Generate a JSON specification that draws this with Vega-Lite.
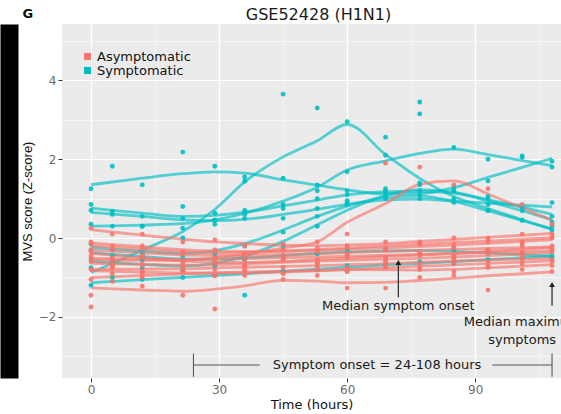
{
  "$schema": "https://vega.github.io/schema/vega-lite/v6.json",
  "autosize": {"type": "none"},
  "width": 499,
  "height": 354,
  "padding": {"left": 62, "top": 24, "right": 0, "bottom": 36},
  "background": "white",
  "title": {
    "text": "GSE52428 (H1N1)",
    "frame": "group",
    "font": "DejaVu Sans",
    "fontSize": 16,
    "fontWeight": "normal",
    "color": "#1a1a1a",
    "offset": 2,
    "dx": 7,
    "dy": 17
  },
  "config": {
    "view": {"fill": "#EBEBEB", "stroke": null},
    "axis": {
      "gridColor": "white",
      "gridWidth": 1.2,
      "domain": false,
      "tickColor": "#333333",
      "tickSize": 4,
      "labelFont": "DejaVu Sans",
      "labelFontSize": 12,
      "labelColor": "#6b6b6b",
      "labelPadding": 2,
      "titleFont": "DejaVu Sans",
      "titleFontSize": 13,
      "titleFontWeight": "normal",
      "titleColor": "#111111"
    },
    "legend": {
      "orient": "none",
      "legendX": 19,
      "legendY": 26,
      "padding": 0,
      "rowPadding": 0,
      "labelFont": "DejaVu Sans",
      "labelFontSize": 13,
      "labelColor": "#111111",
      "labelOffset": 3,
      "symbolType": "square",
      "symbolSize": 50,
      "symbolStrokeWidth": 0,
      "symbolOpacity": 1
    }
  },
  "datasets": {
    "pts": [
      {"s":"S1","g":"Symptomatic","t":0,"v":1.25},{"s":"S1","g":"Symptomatic","t":5,"v":1.82},{"s":"S1","g":"Symptomatic","t":12,"v":1.35},{"s":"S1","g":"Symptomatic","t":21.5,"v":2.18},{"s":"S1","g":"Symptomatic","t":29,"v":1.82},{"s":"S1","g":"Symptomatic","t":36,"v":1.55},{"s":"S1","g":"Symptomatic","t":45,"v":1.52},{"s":"S1","g":"Symptomatic","t":53,"v":1.35},{"s":"S1","g":"Symptomatic","t":60,"v":1.2},{"s":"S1","g":"Symptomatic","t":69,"v":1.05},{"s":"S1","g":"Symptomatic","t":77,"v":1.0},{"s":"S1","g":"Symptomatic","t":85,"v":1.2},{"s":"S1","g":"Symptomatic","t":93,"v":1.45},{"s":"S1","g":"Symptomatic","t":101,"v":2.05},{"s":"S1","g":"Symptomatic","t":108,"v":1.95},
      {"s":"S2","g":"Symptomatic","t":0,"v":-0.75},{"s":"S2","g":"Symptomatic","t":5,"v":-0.6},{"s":"S2","g":"Symptomatic","t":12,"v":-0.55},{"s":"S2","g":"Symptomatic","t":21.5,"v":0.0},{"s":"S2","g":"Symptomatic","t":29,"v":0.63},{"s":"S2","g":"Symptomatic","t":36,"v":1.44},{"s":"S2","g":"Symptomatic","t":45,"v":3.65},{"s":"S2","g":"Symptomatic","t":53,"v":3.3},{"s":"S2","g":"Symptomatic","t":60,"v":2.95},{"s":"S2","g":"Symptomatic","t":69,"v":2.1},{"s":"S2","g":"Symptomatic","t":77,"v":1.35},{"s":"S2","g":"Symptomatic","t":85,"v":0.9},{"s":"S2","g":"Symptomatic","t":93,"v":0.7},{"s":"S2","g":"Symptomatic","t":101,"v":0.45},{"s":"S2","g":"Symptomatic","t":108,"v":0.3},
      {"s":"S3","g":"Symptomatic","t":0,"v":0.35},{"s":"S3","g":"Symptomatic","t":5,"v":0.3},{"s":"S3","g":"Symptomatic","t":12,"v":0.3},{"s":"S3","g":"Symptomatic","t":21.5,"v":0.25},{"s":"S3","g":"Symptomatic","t":29,"v":0.45},{"s":"S3","g":"Symptomatic","t":36,"v":0.6},{"s":"S3","g":"Symptomatic","t":45,"v":0.85},{"s":"S3","g":"Symptomatic","t":53,"v":1.2},{"s":"S3","g":"Symptomatic","t":60,"v":1.68},{"s":"S3","g":"Symptomatic","t":69,"v":2.56},{"s":"S3","g":"Symptomatic","t":77,"v":3.45},{"s":"S3","g":"Symptomatic","t":85,"v":2.3},{"s":"S3","g":"Symptomatic","t":93,"v":2.0},{"s":"S3","g":"Symptomatic","t":101,"v":2.08},{"s":"S3","g":"Symptomatic","t":108,"v":1.8},
      {"s":"S4","g":"Symptomatic","t":0,"v":0.85},{"s":"S4","g":"Symptomatic","t":5,"v":0.68},{"s":"S4","g":"Symptomatic","t":12,"v":0.55},{"s":"S4","g":"Symptomatic","t":21.5,"v":0.5},{"s":"S4","g":"Symptomatic","t":29,"v":0.45},{"s":"S4","g":"Symptomatic","t":36,"v":0.7},{"s":"S4","g":"Symptomatic","t":45,"v":0.75},{"s":"S4","g":"Symptomatic","t":53,"v":1.0},{"s":"S4","g":"Symptomatic","t":60,"v":1.1},{"s":"S4","g":"Symptomatic","t":69,"v":1.25},{"s":"S4","g":"Symptomatic","t":77,"v":3.15},{"s":"S4","g":"Symptomatic","t":85,"v":1.2},{"s":"S4","g":"Symptomatic","t":93,"v":1.05},{"s":"S4","g":"Symptomatic","t":101,"v":0.8},{"s":"S4","g":"Symptomatic","t":108,"v":0.55},
      {"s":"S5","g":"Symptomatic","t":0,"v":0.7},{"s":"S5","g":"Symptomatic","t":5,"v":0.6},{"s":"S5","g":"Symptomatic","t":12,"v":0.3},{"s":"S5","g":"Symptomatic","t":21.5,"v":0.8},{"s":"S5","g":"Symptomatic","t":29,"v":0.35},{"s":"S5","g":"Symptomatic","t":36,"v":0.5},{"s":"S5","g":"Symptomatic","t":45,"v":0.5},{"s":"S5","g":"Symptomatic","t":53,"v":0.75},{"s":"S5","g":"Symptomatic","t":60,"v":0.9},{"s":"S5","g":"Symptomatic","t":69,"v":1.0},{"s":"S5","g":"Symptomatic","t":77,"v":1.1},{"s":"S5","g":"Symptomatic","t":85,"v":0.95},{"s":"S5","g":"Symptomatic","t":93,"v":0.85},{"s":"S5","g":"Symptomatic","t":101,"v":0.7},{"s":"S5","g":"Symptomatic","t":108,"v":0.9},
      {"s":"S6","g":"Symptomatic","t":0,"v":-0.15},{"s":"S6","g":"Symptomatic","t":5,"v":-0.3},{"s":"S6","g":"Symptomatic","t":12,"v":-0.4},{"s":"S6","g":"Symptomatic","t":21.5,"v":-0.5},{"s":"S6","g":"Symptomatic","t":29,"v":-0.4},{"s":"S6","g":"Symptomatic","t":36,"v":-0.2},{"s":"S6","g":"Symptomatic","t":45,"v":0.15},{"s":"S6","g":"Symptomatic","t":53,"v":0.55},{"s":"S6","g":"Symptomatic","t":60,"v":0.95},{"s":"S6","g":"Symptomatic","t":69,"v":1.15},{"s":"S6","g":"Symptomatic","t":77,"v":1.2},{"s":"S6","g":"Symptomatic","t":85,"v":1.0},{"s":"S6","g":"Symptomatic","t":93,"v":0.7},{"s":"S6","g":"Symptomatic","t":101,"v":0.45},{"s":"S6","g":"Symptomatic","t":108,"v":0.2},
      {"s":"S7","g":"Symptomatic","t":0,"v":-0.55},{"s":"S7","g":"Symptomatic","t":5,"v":-0.6},{"s":"S7","g":"Symptomatic","t":12,"v":-0.75},{"s":"S7","g":"Symptomatic","t":21.5,"v":-0.8},{"s":"S7","g":"Symptomatic","t":29,"v":-0.7},{"s":"S7","g":"Symptomatic","t":36,"v":-0.55},{"s":"S7","g":"Symptomatic","t":45,"v":-0.2},{"s":"S7","g":"Symptomatic","t":53,"v":0.3},{"s":"S7","g":"Symptomatic","t":60,"v":0.85},{"s":"S7","g":"Symptomatic","t":69,"v":1.2},{"s":"S7","g":"Symptomatic","t":77,"v":1.4},{"s":"S7","g":"Symptomatic","t":85,"v":1.3},{"s":"S7","g":"Symptomatic","t":93,"v":1.0},{"s":"S7","g":"Symptomatic","t":101,"v":0.7},{"s":"S7","g":"Symptomatic","t":108,"v":0.4},
      {"s":"S8","g":"Symptomatic","t":0,"v":-1.2},{"s":"S8","g":"Symptomatic","t":5,"v":-1.0},{"s":"S8","g":"Symptomatic","t":12,"v":-1.05},{"s":"S8","g":"Symptomatic","t":21.5,"v":-1.0},{"s":"S8","g":"Symptomatic","t":29,"v":-0.95},{"s":"S8","g":"Symptomatic","t":36,"v":-1.45},{"s":"S8","g":"Symptomatic","t":45,"v":-0.85},{"s":"S8","g":"Symptomatic","t":53,"v":-0.8},{"s":"S8","g":"Symptomatic","t":60,"v":-0.7},{"s":"S8","g":"Symptomatic","t":69,"v":-0.7},{"s":"S8","g":"Symptomatic","t":77,"v":-0.6},{"s":"S8","g":"Symptomatic","t":85,"v":-0.65},{"s":"S8","g":"Symptomatic","t":93,"v":-0.55},{"s":"S8","g":"Symptomatic","t":101,"v":-0.5},{"s":"S8","g":"Symptomatic","t":108,"v":-0.45},
      {"s":"S9","g":"Symptomatic","t":0,"v":-0.3},{"s":"S9","g":"Symptomatic","t":5,"v":-0.45},{"s":"S9","g":"Symptomatic","t":12,"v":-0.5},{"s":"S9","g":"Symptomatic","t":21.5,"v":-0.55},{"s":"S9","g":"Symptomatic","t":29,"v":-0.6},{"s":"S9","g":"Symptomatic","t":36,"v":-0.5},{"s":"S9","g":"Symptomatic","t":45,"v":-0.45},{"s":"S9","g":"Symptomatic","t":53,"v":-0.4},{"s":"S9","g":"Symptomatic","t":60,"v":-0.3},{"s":"S9","g":"Symptomatic","t":69,"v":-0.3},{"s":"S9","g":"Symptomatic","t":77,"v":-0.35},{"s":"S9","g":"Symptomatic","t":85,"v":-0.3},{"s":"S9","g":"Symptomatic","t":93,"v":-0.35},{"s":"S9","g":"Symptomatic","t":101,"v":-0.4},{"s":"S9","g":"Symptomatic","t":108,"v":-0.5},
      {"s":"R1","g":"Asymptomatic","t":0,"v":-0.45},{"s":"R1","g":"Asymptomatic","t":5,"v":-0.6},{"s":"R1","g":"Asymptomatic","t":12,"v":-0.7},{"s":"R1","g":"Asymptomatic","t":21.5,"v":-0.55},{"s":"R1","g":"Asymptomatic","t":29,"v":-0.55},{"s":"R1","g":"Asymptomatic","t":36,"v":-0.4},{"s":"R1","g":"Asymptomatic","t":45,"v":-0.3},{"s":"R1","g":"Asymptomatic","t":53,"v":-0.1},{"s":"R1","g":"Asymptomatic","t":60,"v":0.1},{"s":"R1","g":"Asymptomatic","t":69,"v":1.9},{"s":"R1","g":"Asymptomatic","t":77,"v":1.8},{"s":"R1","g":"Asymptomatic","t":85,"v":1.35},{"s":"R1","g":"Asymptomatic","t":93,"v":1.25},{"s":"R1","g":"Asymptomatic","t":101,"v":0.85},{"s":"R1","g":"Asymptomatic","t":108,"v":0.35},
      {"s":"R2","g":"Asymptomatic","t":0,"v":0.25},{"s":"R2","g":"Asymptomatic","t":5,"v":0.1},{"s":"R2","g":"Asymptomatic","t":12,"v":0.1},{"s":"R2","g":"Asymptomatic","t":21.5,"v":-0.1},{"s":"R2","g":"Asymptomatic","t":29,"v":-0.05},{"s":"R2","g":"Asymptomatic","t":36,"v":-0.2},{"s":"R2","g":"Asymptomatic","t":45,"v":-0.15},{"s":"R2","g":"Asymptomatic","t":53,"v":-0.25},{"s":"R2","g":"Asymptomatic","t":60,"v":-0.2},{"s":"R2","g":"Asymptomatic","t":69,"v":-0.1},{"s":"R2","g":"Asymptomatic","t":77,"v":-0.15},{"s":"R2","g":"Asymptomatic","t":85,"v":0.0},{"s":"R2","g":"Asymptomatic","t":93,"v":0.0},{"s":"R2","g":"Asymptomatic","t":101,"v":0.1},{"s":"R2","g":"Asymptomatic","t":108,"v":0.1},
      {"s":"R3","g":"Asymptomatic","t":0,"v":-0.1},{"s":"R3","g":"Asymptomatic","t":5,"v":-0.2},{"s":"R3","g":"Asymptomatic","t":12,"v":-0.2},{"s":"R3","g":"Asymptomatic","t":21.5,"v":-0.35},{"s":"R3","g":"Asymptomatic","t":29,"v":-0.3},{"s":"R3","g":"Asymptomatic","t":36,"v":-0.4},{"s":"R3","g":"Asymptomatic","t":45,"v":-0.3},{"s":"R3","g":"Asymptomatic","t":53,"v":-0.35},{"s":"R3","g":"Asymptomatic","t":60,"v":-0.2},{"s":"R3","g":"Asymptomatic","t":69,"v":-0.25},{"s":"R3","g":"Asymptomatic","t":77,"v":-0.1},{"s":"R3","g":"Asymptomatic","t":85,"v":-0.15},{"s":"R3","g":"Asymptomatic","t":93,"v":-0.05},{"s":"R3","g":"Asymptomatic","t":101,"v":-0.1},{"s":"R3","g":"Asymptomatic","t":108,"v":0.05},
      {"s":"R4","g":"Asymptomatic","t":0,"v":-0.3},{"s":"R4","g":"Asymptomatic","t":5,"v":-0.3},{"s":"R4","g":"Asymptomatic","t":12,"v":-0.45},{"s":"R4","g":"Asymptomatic","t":21.5,"v":-0.4},{"s":"R4","g":"Asymptomatic","t":29,"v":-0.5},{"s":"R4","g":"Asymptomatic","t":36,"v":-0.4},{"s":"R4","g":"Asymptomatic","t":45,"v":-0.5},{"s":"R4","g":"Asymptomatic","t":53,"v":-0.35},{"s":"R4","g":"Asymptomatic","t":60,"v":-0.4},{"s":"R4","g":"Asymptomatic","t":69,"v":-0.3},{"s":"R4","g":"Asymptomatic","t":77,"v":-0.35},{"s":"R4","g":"Asymptomatic","t":85,"v":-0.25},{"s":"R4","g":"Asymptomatic","t":93,"v":-0.3},{"s":"R4","g":"Asymptomatic","t":101,"v":-0.2},{"s":"R4","g":"Asymptomatic","t":108,"v":-0.25},
      {"s":"R5","g":"Asymptomatic","t":0,"v":-0.5},{"s":"R5","g":"Asymptomatic","t":5,"v":-0.55},{"s":"R5","g":"Asymptomatic","t":12,"v":-0.5},{"s":"R5","g":"Asymptomatic","t":21.5,"v":-0.6},{"s":"R5","g":"Asymptomatic","t":29,"v":-0.5},{"s":"R5","g":"Asymptomatic","t":36,"v":-0.55},{"s":"R5","g":"Asymptomatic","t":45,"v":-0.45},{"s":"R5","g":"Asymptomatic","t":53,"v":-0.55},{"s":"R5","g":"Asymptomatic","t":60,"v":-0.4},{"s":"R5","g":"Asymptomatic","t":69,"v":-0.5},{"s":"R5","g":"Asymptomatic","t":77,"v":-0.35},{"s":"R5","g":"Asymptomatic","t":85,"v":-0.45},{"s":"R5","g":"Asymptomatic","t":93,"v":-0.3},{"s":"R5","g":"Asymptomatic","t":101,"v":-0.4},{"s":"R5","g":"Asymptomatic","t":108,"v":-0.3},
      {"s":"R6","g":"Asymptomatic","t":0,"v":-0.6},{"s":"R6","g":"Asymptomatic","t":5,"v":-0.7},{"s":"R6","g":"Asymptomatic","t":12,"v":-0.65},{"s":"R6","g":"Asymptomatic","t":21.5,"v":-0.75},{"s":"R6","g":"Asymptomatic","t":29,"v":-0.65},{"s":"R6","g":"Asymptomatic","t":36,"v":-0.7},{"s":"R6","g":"Asymptomatic","t":45,"v":-0.55},{"s":"R6","g":"Asymptomatic","t":53,"v":-0.65},{"s":"R6","g":"Asymptomatic","t":60,"v":-0.5},{"s":"R6","g":"Asymptomatic","t":69,"v":-0.6},{"s":"R6","g":"Asymptomatic","t":77,"v":-0.45},{"s":"R6","g":"Asymptomatic","t":85,"v":-0.55},{"s":"R6","g":"Asymptomatic","t":93,"v":-0.4},{"s":"R6","g":"Asymptomatic","t":101,"v":-0.45},{"s":"R6","g":"Asymptomatic","t":108,"v":-0.35},
      {"s":"R7","g":"Asymptomatic","t":0,"v":-0.8},{"s":"R7","g":"Asymptomatic","t":5,"v":-0.75},{"s":"R7","g":"Asymptomatic","t":12,"v":-0.85},{"s":"R7","g":"Asymptomatic","t":21.5,"v":-0.75},{"s":"R7","g":"Asymptomatic","t":29,"v":-0.8},{"s":"R7","g":"Asymptomatic","t":36,"v":-0.7},{"s":"R7","g":"Asymptomatic","t":45,"v":-0.75},{"s":"R7","g":"Asymptomatic","t":53,"v":-0.65},{"s":"R7","g":"Asymptomatic","t":60,"v":-0.75},{"s":"R7","g":"Asymptomatic","t":69,"v":-0.6},{"s":"R7","g":"Asymptomatic","t":77,"v":-0.65},{"s":"R7","g":"Asymptomatic","t":85,"v":-0.55},{"s":"R7","g":"Asymptomatic","t":93,"v":-0.6},{"s":"R7","g":"Asymptomatic","t":101,"v":-0.45},{"s":"R7","g":"Asymptomatic","t":108,"v":-0.55},
      {"s":"R8","g":"Asymptomatic","t":0,"v":-1.05},{"s":"R8","g":"Asymptomatic","t":5,"v":-0.9},{"s":"R8","g":"Asymptomatic","t":12,"v":-1.0},{"s":"R8","g":"Asymptomatic","t":21.5,"v":-0.85},{"s":"R8","g":"Asymptomatic","t":29,"v":-0.95},{"s":"R8","g":"Asymptomatic","t":36,"v":-0.8},{"s":"R8","g":"Asymptomatic","t":45,"v":-0.9},{"s":"R8","g":"Asymptomatic","t":53,"v":-0.75},{"s":"R8","g":"Asymptomatic","t":60,"v":-0.85},{"s":"R8","g":"Asymptomatic","t":69,"v":-0.75},{"s":"R8","g":"Asymptomatic","t":77,"v":-0.8},{"s":"R8","g":"Asymptomatic","t":85,"v":-0.95},{"s":"R8","g":"Asymptomatic","t":93,"v":-0.75},{"s":"R8","g":"Asymptomatic","t":101,"v":-0.65},{"s":"R8","g":"Asymptomatic","t":108,"v":-0.7},
      {"s":"R9","g":"Asymptomatic","t":0,"v":-1.45},{"s":"R9","g":"Asymptomatic","t":5,"v":-1.1},{"s":"R9","g":"Asymptomatic","t":12,"v":-1.22},{"s":"R9","g":"Asymptomatic","t":21.5,"v":-1.45},{"s":"R9","g":"Asymptomatic","t":29,"v":-1.8},{"s":"R9","g":"Asymptomatic","t":36,"v":-0.95},{"s":"R9","g":"Asymptomatic","t":45,"v":-1.05},{"s":"R9","g":"Asymptomatic","t":53,"v":-0.95},{"s":"R9","g":"Asymptomatic","t":60,"v":-1.27},{"s":"R9","g":"Asymptomatic","t":69,"v":-1.27},{"s":"R9","g":"Asymptomatic","t":77,"v":-1.0},{"s":"R9","g":"Asymptomatic","t":85,"v":-0.85},{"s":"R9","g":"Asymptomatic","t":93,"v":-1.32},{"s":"R9","g":"Asymptomatic","t":101,"v":-0.8},{"s":"R9","g":"Asymptomatic","t":108,"v":-0.85},
      {"s":"R10","g":"Asymptomatic","t":0,"v":-0.15},{"s":"R10","g":"Asymptomatic","t":5,"v":-0.3},{"s":"R10","g":"Asymptomatic","t":12,"v":-0.25},{"s":"R10","g":"Asymptomatic","t":21.5,"v":-0.4},{"s":"R10","g":"Asymptomatic","t":29,"v":-0.35},{"s":"R10","g":"Asymptomatic","t":36,"v":-0.45},{"s":"R10","g":"Asymptomatic","t":45,"v":-0.3},{"s":"R10","g":"Asymptomatic","t":53,"v":-0.35},{"s":"R10","g":"Asymptomatic","t":60,"v":-0.25},{"s":"R10","g":"Asymptomatic","t":69,"v":-0.3},{"s":"R10","g":"Asymptomatic","t":77,"v":-0.15},{"s":"R10","g":"Asymptomatic","t":85,"v":-0.25},{"s":"R10","g":"Asymptomatic","t":93,"v":-0.1},{"s":"R10","g":"Asymptomatic","t":101,"v":-0.15},{"s":"R10","g":"Asymptomatic","t":108,"v":0.0},
      {"s":"R11","g":"Asymptomatic","t":0,"v":-0.35},{"s":"R11","g":"Asymptomatic","t":5,"v":-0.5},{"s":"R11","g":"Asymptomatic","t":12,"v":-0.45},{"s":"R11","g":"Asymptomatic","t":21.5,"v":-0.65},{"s":"R11","g":"Asymptomatic","t":29,"v":-0.6},{"s":"R11","g":"Asymptomatic","t":36,"v":-0.7},{"s":"R11","g":"Asymptomatic","t":45,"v":-0.55},{"s":"R11","g":"Asymptomatic","t":53,"v":-0.6},{"s":"R11","g":"Asymptomatic","t":60,"v":-0.45},{"s":"R11","g":"Asymptomatic","t":69,"v":-0.5},{"s":"R11","g":"Asymptomatic","t":77,"v":-0.4},{"s":"R11","g":"Asymptomatic","t":85,"v":-0.45},{"s":"R11","g":"Asymptomatic","t":93,"v":-0.3},{"s":"R11","g":"Asymptomatic","t":101,"v":-0.35},{"s":"R11","g":"Asymptomatic","t":108,"v":-0.2},
      {"s":"R12","g":"Asymptomatic","t":0,"v":-1.75},{"s":"R12","g":"Asymptomatic","t":5,"v":-0.7},{"s":"R12","g":"Asymptomatic","t":12,"v":-0.9},{"s":"R12","g":"Asymptomatic","t":21.5,"v":-0.85},{"s":"R12","g":"Asymptomatic","t":29,"v":-0.95},{"s":"R12","g":"Asymptomatic","t":36,"v":-0.85},{"s":"R12","g":"Asymptomatic","t":45,"v":-0.9},{"s":"R12","g":"Asymptomatic","t":53,"v":-0.8},{"s":"R12","g":"Asymptomatic","t":60,"v":-0.85},{"s":"R12","g":"Asymptomatic","t":69,"v":-0.7},{"s":"R12","g":"Asymptomatic","t":77,"v":-0.75},{"s":"R12","g":"Asymptomatic","t":85,"v":-0.65},{"s":"R12","g":"Asymptomatic","t":93,"v":-0.7},{"s":"R12","g":"Asymptomatic","t":101,"v":-0.55},{"s":"R12","g":"Asymptomatic","t":108,"v":-0.6}
    ],
    "arrows": [
      {"t": 72, "top": -0.62, "bottom": -1.5},
      {"t": 108, "top": -1.18, "bottom": -1.72}
    ],
    "notes": [
      {"t": 72, "v": -1.72, "label": "Median symptom onset"},
      {"t": 101, "v": -2.13, "label": "Median maximum"},
      {"t": 101, "v": -2.59, "label": "symptoms"},
      {"t": 67, "v": -3.22, "label": "Symptom onset = 24-108 hours"}
    ],
    "bracket": [
      {"t": 24, "t2": 39.5, "v": -3.22, "v2": -3.22},
      {"t": 94, "t2": 108, "v": -3.22, "v2": -3.22},
      {"t": 24, "t2": 24, "v": -2.93, "v2": -3.52},
      {"t": 108, "t2": 108, "v": -2.93, "v2": -3.52}
    ],
    "panel": [
      {"t": -14.8, "v": 5.68, "label": "G"}
    ]
  },
  "resolve": {
    "axis": {"x": "independent", "y": "independent"},
    "scale": {"color": "shared"},
    "legend": {"color": "shared"}
  },
  "layer": [
    {
      "data": {"name": "pts"},
      "transform": [
        {"loess": "v", "on": "t", "groupby": ["s", "g"], "bandwidth": 0.5}
      ],
      "mark": {"type": "line", "interpolate": "monotone", "strokeWidth": 2.8, "opacity": 0.66, "clip": true},
      "encoding": {
        "x": {
          "field": "t", "type": "quantitative",
          "scale": {"domain": [-6.8, 110.1], "nice": false, "zero": false},
          "axis": {"orient": "bottom", "values": [15, 45, 75, 105], "grid": true, "gridWidth": 0.5, "labels": false, "ticks": false, "domain": false, "title": null}
        },
        "y": {
          "field": "v", "type": "quantitative",
          "scale": {"domain": [-3.55, 5.43], "nice": false, "zero": false},
          "axis": {"orient": "left", "offset": 53, "values": [-3, -1, 1, 3, 5], "grid": true, "gridWidth": 0.5, "labels": false, "ticks": false, "domain": true, "domainColor": "black", "domainWidth": 18, "title": null}
        },
        "color": {
          "field": "g", "type": "nominal",
          "scale": {"domain": ["Asymptomatic", "Symptomatic"], "range": ["#F8766D", "#00BFC4"]},
          "title": null
        },
        "detail": {"field": "s"}
      }
    },
    {
      "data": {"name": "pts"},
      "mark": {"type": "point", "filled": true, "size": 24, "opacity": 0.9},
      "encoding": {
        "x": {
          "field": "t", "type": "quantitative",
          "axis": {"orient": "bottom", "values": [0, 30, 60, 90], "grid": true, "title": "Time (hours)", "titlePadding": 3}
        },
        "y": {
          "field": "v", "type": "quantitative",
          "axis": {"orient": "left", "values": [-2, 0, 2, 4], "grid": true, "title": "MVS score (Z-score)", "titleFont": "Liberation Sans", "titlePadding": 4}
        },
        "color": {
          "field": "g", "type": "nominal",
          "title": null
        }
      }
    },
    {
      "data": {"name": "arrows"},
      "mark": {"type": "rule", "color": "#333333", "strokeWidth": 1.3},
      "encoding": {
        "x": {"field": "t", "type": "quantitative", "axis": null},
        "y": {"field": "top", "type": "quantitative", "axis": null},
        "y2": {"field": "bottom"}
      }
    },
    {
      "data": {"name": "arrows"},
      "mark": {"type": "point", "shape": "triangle-up", "filled": true, "size": 34, "color": "#222222", "opacity": 1},
      "encoding": {
        "x": {"field": "t", "type": "quantitative", "axis": null},
        "y": {"field": "top", "type": "quantitative", "axis": null}
      }
    },
    {
      "data": {"name": "bracket"},
      "mark": {"type": "rule", "color": "#555555", "strokeWidth": 1.1},
      "encoding": {
        "x": {"field": "t", "type": "quantitative", "axis": null},
        "x2": {"field": "t2"},
        "y": {"field": "v", "type": "quantitative", "axis": null},
        "y2": {"field": "v2"}
      }
    },
    {
      "data": {"name": "notes"},
      "mark": {"type": "text", "font": "DejaVu Sans", "fontSize": 13, "color": "#1a1a1a", "align": "center", "baseline": "middle", "clip": true},
      "encoding": {
        "x": {"field": "t", "type": "quantitative", "axis": null},
        "y": {"field": "v", "type": "quantitative", "axis": null},
        "text": {"field": "label"}
      }
    },
    {
      "data": {"name": "panel"},
      "mark": {"type": "text", "font": "DejaVu Sans", "fontSize": 13, "fontWeight": "bold", "color": "#111111", "align": "center", "baseline": "middle"},
      "encoding": {
        "x": {"field": "t", "type": "quantitative", "axis": null},
        "y": {"field": "v", "type": "quantitative", "axis": null},
        "text": {"field": "label"}
      }
    }
  ]
}
